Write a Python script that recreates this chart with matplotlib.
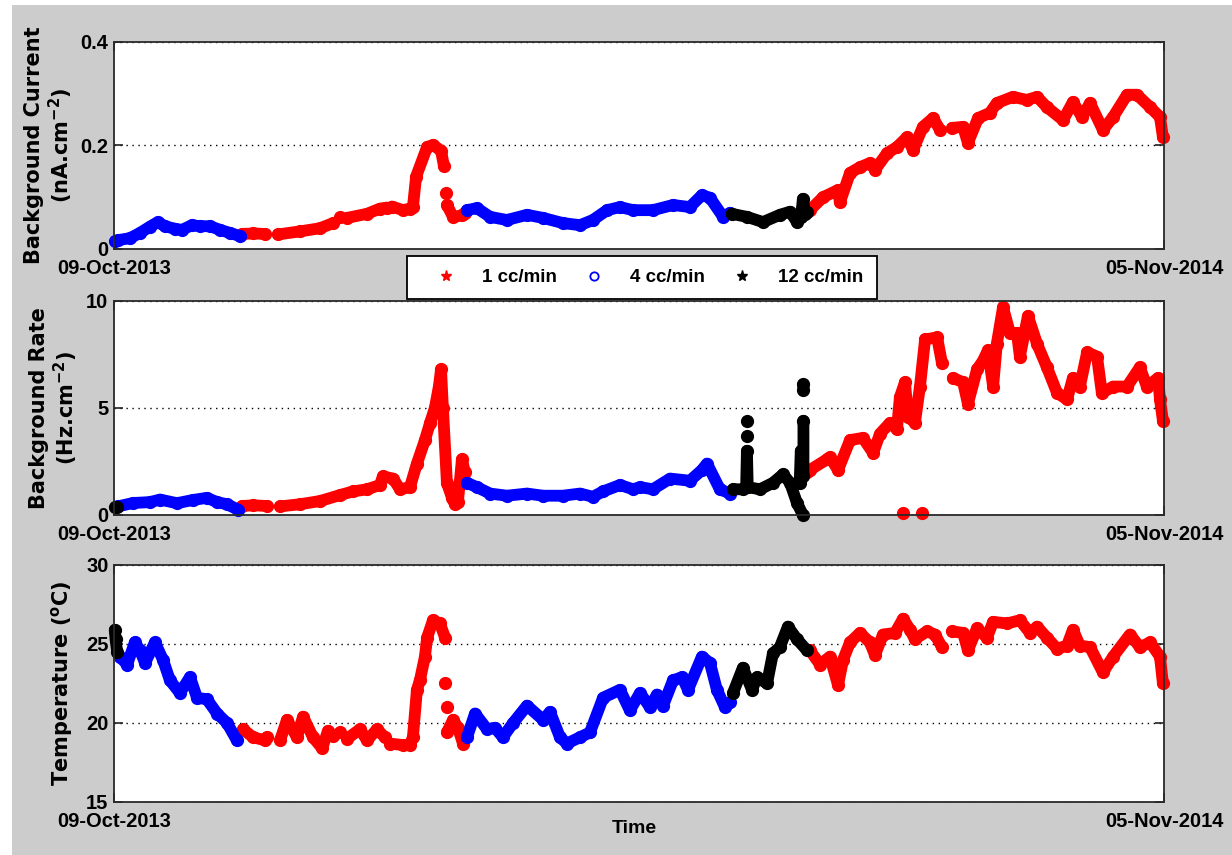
import numpy as np
import matplotlib
matplotlib.use("Agg")
import matplotlib.pyplot as plt
import matplotlib.dates as mdates
from matplotlib.lines import Line2D
from matplotlib.patches import Rectangle

plt.rcParams["font.family"] = ["Liberation Sans", "DejaVu Sans"]
plt.rcParams["font.weight"] = "bold"

# x = days after 09-Oct-2013, None = break in the series
START, END = "2013-10-09", "2014-11-05"

cur_red = [(47.8, 0.029), (51.9, 0.030), (56.4, 0.029), None,
           (61.2, 0.028), (69.4, 0.034), (76.9, 0.040), (81.8, 0.050), None,
           (84.4, 0.062), None,
           (87.0, 0.060), (94.5, 0.068), (99.3, 0.078), (101.9, 0.080), None,
           (103.8, 0.082), (107.9, 0.075), (110.5, 0.078), (111.6, 0.081), (112.8, 0.140),
           (116.9, 0.197), (119.1, 0.201), (122.1, 0.190), (123.2, 0.160), None,
           (123.8, 0.108), None,
           (124.3, 0.085), (126.6, 0.062), (129.9, 0.065), (131.0, 0.070), None,
           (258.7, 0.072), (259.8, 0.075), (264.7, 0.100), (270.3, 0.114), (271.0, 0.090),
           (274.8, 0.147), (278.5, 0.158), (282.2, 0.166), (284.1, 0.153), (288.6, 0.185),
           (292.3, 0.197), (296.1, 0.216), (298.3, 0.191), (302.0, 0.236), (305.8, 0.253),
           (308.4, 0.230), None,
           (312.9, 0.234), (317.0, 0.236), (318.8, 0.205), (322.6, 0.253), (327.0, 0.263),
           (329.6, 0.282), (335.6, 0.294), (340.8, 0.288), (344.6, 0.294), (348.3, 0.274),
           (354.3, 0.249), (358.0, 0.284), (361.4, 0.255), (364.4, 0.282), (369.2, 0.230),
           (373.0, 0.255), (378.2, 0.298), (381.9, 0.298), (386.8, 0.274), (390.5, 0.255),
           (391.6, 0.216)]
cur_blue = [(0.5, 0.015), (1.5, 0.017), (6.0, 0.021), (9.7, 0.031), (13.4, 0.043),
            (16.4, 0.052), (19.0, 0.044), (22.8, 0.039), (25.4, 0.037), (29.1, 0.046),
            (32.1, 0.044), (35.8, 0.044), (39.6, 0.037), (43.3, 0.031), (47.0, 0.025), None,
            (131.8, 0.075), (135.5, 0.079), (140.4, 0.062), (146.7, 0.056), (154.2, 0.066),
            (160.2, 0.060), (167.6, 0.050), (174.0, 0.046), (178.8, 0.056), (184.1, 0.075),
            (188.9, 0.081), (193.8, 0.075), (201.2, 0.075), (208.7, 0.085), (215.0, 0.081),
            (219.5, 0.104), (222.5, 0.099), (227.4, 0.062), (230.0, 0.070)]
cur_black = [(230.6, 0.068), (236.3, 0.062), (242.3, 0.052), (248.6, 0.066), (252.4, 0.072),
             (255.0, 0.052), (256.5, 0.062), (257.2, 0.097), (258.0, 0.068), (258.7, 0.072)]

rate_red = [(47.8, 0.42), (52.0, 0.45), (57.1, 0.42), None,
            (62.0, 0.40), (69.4, 0.50), (76.9, 0.65), (84.4, 0.93), (89.2, 1.1), (94.5, 1.2),
            (99.3, 1.4), (100.4, 1.8), (104.2, 1.7), (106.8, 1.2), (110.5, 1.3), (113.1, 2.4),
            (116.1, 3.5), (118.0, 4.3), (119.8, 5.0), (121.3, 6.0), (122.1, 6.8), (122.8, 5.0),
            (124.3, 1.5), (126.2, 0.8), (127.3, 0.5), (128.4, 0.6), (129.9, 2.6), (131.0, 2.0), None,
            (258.7, 2.0), (259.8, 2.1), (266.2, 2.6), (267.3, 2.7), (270.3, 2.1), (274.8, 3.5),
            (279.6, 3.6), (283.4, 2.9), (286.0, 3.8), (289.7, 4.3), (292.3, 4.0), (293.4, 5.5),
            (295.3, 6.2), (296.4, 4.6), (299.0, 4.3), (300.9, 6.0), (302.8, 8.2), (307.3, 8.3),
            (309.1, 7.1), None,
            (313.2, 6.4), (317.0, 6.2), (318.8, 5.2), (322.2, 6.8), (324.4, 7.2), (326.3, 7.7),
            (328.2, 6.0), (329.6, 8.0), (331.9, 9.7), (334.5, 8.5), (337.1, 8.5), (338.2, 7.4),
            (341.2, 9.3), (344.6, 8.0), (348.3, 6.9), (352.1, 5.7), (355.8, 5.4), (358.0, 6.4),
            (360.6, 6.0), (363.3, 7.6), (367.0, 7.4), (368.8, 5.7), (373.0, 6.0), (378.2, 6.0),
            (383.0, 6.9), (385.6, 6.0), (389.8, 6.4), (390.5, 5.4), (391.6, 4.4), None,
            (294.6, 0.1), None, (301.6, 0.1)]
rate_blue = [(1.5, 0.40), (7.1, 0.56), (13.4, 0.60), (17.2, 0.72), (23.5, 0.55), (29.5, 0.70),
             (34.7, 0.80), (38.5, 0.60), (42.2, 0.50), (46.3, 0.25), None,
             (131.8, 1.5), (135.5, 1.3), (140.4, 1.0), (146.7, 0.9), (154.2, 1.0), (160.2, 0.9),
             (167.6, 0.9), (174.0, 1.0), (178.8, 0.85), (182.6, 1.1), (188.9, 1.4), (193.8, 1.2),
             (196.4, 1.3), (201.2, 1.2), (207.6, 1.7), (215.0, 1.6), (219.5, 2.1), (221.4, 2.4),
             (226.2, 1.2), (230.0, 1.0)]
rate_black = [(0.5, 0.35), (1.1, 0.37), None,
              (231.1, 1.2), (234.8, 1.2), (236.0, 1.3), (236.3, 3.0), (236.6, 1.3), (241.2, 1.2),
              (246.0, 1.5), (249.8, 1.9), (252.4, 1.5), (255.0, 0.56), (257.2, 0.0), None,
              (236.3, 3.7), None, (236.3, 4.4), None,
              (256.0, 1.5), (256.4, 3.0), None, (257.4, 1.8), (257.4, 4.4), None,
              (257.4, 5.85), (257.4, 6.1)]

temp_red = [(48.2, 19.6), (51.9, 19.1), (56.4, 18.9), (57.1, 19.1), None,
            (62.0, 18.9), (64.6, 20.2), (68.3, 19.1), (70.6, 20.4), (74.3, 19.1), (77.7, 18.4),
            (79.9, 19.5), (81.8, 19.2), None, (84.4, 19.4), None,
            (87.0, 19.0), (91.8, 19.6), (94.5, 18.9), (98.2, 19.6), (101.1, 19.1), None,
            (103.0, 18.7), (107.9, 18.6), (110.5, 18.6), (111.6, 19.1), (113.1, 22.1), (114.2, 22.7),
            (116.1, 24.2), (116.9, 25.4), (119.1, 26.5), (121.7, 26.3), (123.6, 25.4), None,
            (123.6, 22.5), None, (124.3, 21.0), None,
            (124.3, 19.4), (126.6, 20.2), (128.4, 19.7), (130.3, 18.7), None,
            (259.8, 24.6), (263.6, 23.7), (267.3, 24.2), (270.3, 22.4), (272.2, 24.0), (274.8, 25.1),
            (278.5, 25.7), (282.2, 25.1), (284.1, 24.3), (287.1, 25.6), (291.6, 25.7), (294.6, 26.6),
            (297.2, 25.9), (299.0, 25.3), (303.5, 25.8), (306.5, 25.6), (309.1, 24.8), None,
            (312.9, 25.8), (317.0, 25.7), (318.8, 24.6), (322.2, 26.0), (325.9, 25.4), (328.2, 26.4),
            (333.4, 26.3), (338.2, 26.5), (342.0, 25.7), (344.6, 26.1), (348.3, 25.4), (352.1, 24.7),
            (355.8, 24.9), (358.0, 25.9), (360.6, 24.9), (364.4, 24.8), (369.2, 23.2), (373.0, 24.2),
            (379.3, 25.6), (383.0, 24.8), (386.8, 25.1), (390.5, 24.2), (391.6, 22.5)]
temp_blue = [(2.2, 24.2), (4.9, 23.7), (7.8, 25.1), (9.7, 24.6), (11.6, 23.8), (15.3, 25.1),
             (18.3, 24.0), (20.9, 22.7), (24.6, 21.9), (28.4, 22.9), (31.0, 21.6), (34.7, 21.5),
             (38.5, 20.6), (42.2, 20.0), (45.9, 18.9), None,
             (131.8, 19.1), (134.8, 20.6), (139.3, 19.6), (142.2, 19.7), (145.2, 19.1), (149.0, 20.0),
             (154.2, 21.1), (160.2, 20.2), (162.8, 20.7), (166.5, 19.1), (169.1, 18.7), (174.0, 19.1),
             (177.7, 19.4), (182.6, 21.6), (188.9, 22.1), (192.6, 20.8), (196.4, 21.9), (200.1, 21.0),
             (202.7, 21.8), (205.0, 21.1), (208.7, 22.7), (212.1, 22.9), (214.3, 22.1), (219.5, 24.2),
             (222.5, 23.8), (225.1, 22.1), (228.1, 21.0), (230.0, 21.3)]
temp_black = [(0.3, 25.9), (0.6, 25.3), (1.2, 24.5), None,
              (231.1, 21.9), (234.8, 23.5), (238.2, 22.1), (240.1, 22.9), (243.8, 22.5), (246.0, 24.4),
              (248.6, 24.8), (251.6, 26.1), (255.0, 25.3), (258.7, 24.6)]

FLOW_LABELS = ["1 cc/min", "4 cc/min", "12 cc/min"]
FLOW_COLORS = ["#ff0000", "#0000ff", "#000000"]

x0 = mdates.date2num(np.datetime64(START))
x1 = mdates.date2num(np.datetime64(END))


def to_xy(points):
    xs = np.array([np.nan if p is None else p[0] for p in points], dtype=float)
    ys = np.array([np.nan if p is None else p[1] for p in points], dtype=float)
    return x0 + xs, ys


def draw_panel(ax, series, ylim, yticks, yticklabels, ylabel, label_x):
    for pts, color in zip(series, FLOW_COLORS):
        x, y = to_xy(pts)
        ax.plot(x, y, color=color, lw=8.5, marker="o", ms=8.5, mec=color, mfc=color,
                solid_capstyle="round", solid_joinstyle="round", clip_on=False)
    ax.set_xlim(x0, x1)
    ax.set_xticks([x0, x1])
    ax.xaxis.set_major_formatter(mdates.DateFormatter("%d-%b-%Y"))
    ax.set_ylim(*ylim)
    ax.set_yticks(yticks)
    ax.set_yticklabels(yticklabels)
    ax.yaxis.grid(True, ls=(0, (1, 3.3)), color="black", lw=1)
    ax.tick_params(direction="in", length=6.5, width=1.2, top=True, right=True,
                   labelsize=14.5, color="#222222")
    ax.tick_params(axis="x", pad=7.5)
    ax.tick_params(axis="y", pad=4)
    for s in ax.spines.values():
        s.set_linewidth(1.3)
        s.set_color("#2a2a2a")
    ax.set_ylabel(ylabel, fontsize=15, family="DejaVu Sans", fontweight="bold", linespacing=1.15)
    ax.yaxis.set_label_coords(label_x, 0.5)


fig = plt.figure(figsize=(12.32, 8.55), dpi=100, facecolor="white")
fig.patches.append(Rectangle((12 / 1232, 0), 1, 1 - 5 / 855, transform=fig.transFigure,
                             facecolor="#cccccc", edgecolor="none", zorder=-10))

ax1 = fig.add_axes([0.0925, 0.7088, 0.8523, 0.2421])
ax2 = fig.add_axes([0.0925, 0.3977, 0.8523, 0.2503])
ax3 = fig.add_axes([0.0925, 0.0620, 0.8523, 0.2772])

draw_panel(ax1, [cur_red, cur_blue, cur_black], (0, 0.4), [0, 0.2, 0.4], ["0", "0.2", "0.4"],
           "Background Current\n(nA.cm$^{\\mathbf{-2}}$)", -0.037)
draw_panel(ax2, [rate_red, rate_blue, rate_black], (0, 10), [0, 5, 10], ["0", "5", "10"],
           "Background Rate\n(Hz.cm$^{\\mathbf{-2}}$)", -0.032)
draw_panel(ax3, [temp_red, temp_blue, temp_black], (15, 30), [15, 20, 25, 30],
           ["15", "20", "25", "30"], "Temperature ($^{\\mathbf{o}}$C)", -0.037)

ax3.set_xlabel("Time", fontsize=14, fontweight="bold")
ax3.xaxis.set_label_coords(0.496, -0.074)

handles = [
    Line2D([], [], ls="none", marker="*", ms=8, color=FLOW_COLORS[0]),
    Line2D([], [], ls="none", marker="o", ms=6, mfc="none", mec=FLOW_COLORS[1], mew=1.3),
    Line2D([], [], ls="none", marker="*", ms=8, color=FLOW_COLORS[2]),
]
leg = fig.legend(handles, FLOW_LABELS, loc="center", bbox_to_anchor=(0.521, 0.6754), ncol=3,
                 fancybox=False, edgecolor="black", framealpha=1, handlelength=2.7,
                 handletextpad=0.6, columnspacing=0.6, borderpad=0.7,
                 prop={"weight": "bold", "size": 13.5})
leg.get_frame().set_linewidth(1.3)

fig.savefig("out.png", dpi=100, facecolor=fig.get_facecolor())
